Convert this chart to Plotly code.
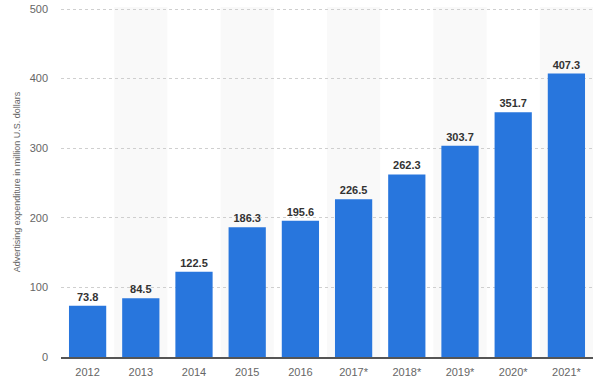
import plotly.graph_objects as go

categories = ["2012", "2013", "2014", "2015", "2016", "2017*", "2018*", "2019*", "2020*", "2021*"]
values = [73.8, 84.5, 122.5, 186.3, 195.6, 226.5, 262.3, 303.7, 351.7, 407.3]
y_ticks = [0, 100, 200, 300, 400, 500]

fig = go.Figure()
fig.add_trace(go.Bar(
    x=categories, y=values,
    marker=dict(color="#2876dd", line=dict(width=0)),
    text=[f"{v:.1f}" for v in values],
    textposition="outside",
    cliponaxis=False,
    textfont=dict(family="Liberation Sans, Arial, sans-serif", size=11, color="#333333"),
    texttemplate="<b>%{text}</b>",
    hoverinfo="skip",
))

shapes = []
for i in range(len(categories)):
    if i % 2 == 1:
        shapes.append(dict(type="rect", xref="x", yref="paper",
                           x0=i - 0.5, x1=i + 0.5, y0=0, y1=1,
                           fillcolor="#f9f9f9", line=dict(width=0), layer="below"))

fig.update_layout(
    width=600, height=386,
    margin=dict(l=61, r=7, t=7, b=29),
    paper_bgcolor="white", plot_bgcolor="white",
    bargap=0.3,
    showlegend=False,
    shapes=shapes,
    font=dict(family="Liberation Sans, Arial, sans-serif", color="#666666"),
    xaxis=dict(
        type="category", showline=True, linecolor="#555555", linewidth=1.5,
        ticks="", tickfont=dict(size=11, color="#666666"), showgrid=False,
        range=[-0.5, len(categories) - 0.5], automargin=False,
        ticklabelstandoff=4,
    ),
    yaxis=dict(
        range=[0, 502.9], tickvals=y_ticks, ticktext=[str(t) for t in y_ticks],
        showgrid=True, gridcolor="#cfcfcf", griddash="dot", gridwidth=1,
        zeroline=False, showline=False, ticks="",
        tickfont=dict(size=11, color="#666666"),
        ticklabelstandoff=12, automargin=False, ticklabeloverflow="allow",
        title=dict(text="Advertising expenditure in million U.S. dollars",
                   font=dict(size=9, color="#666666"), standoff=7),
    ),
)

fig.write_html("out.html", config={"displayModeBar": False},
               post_script="document.body.style.margin='0';")
